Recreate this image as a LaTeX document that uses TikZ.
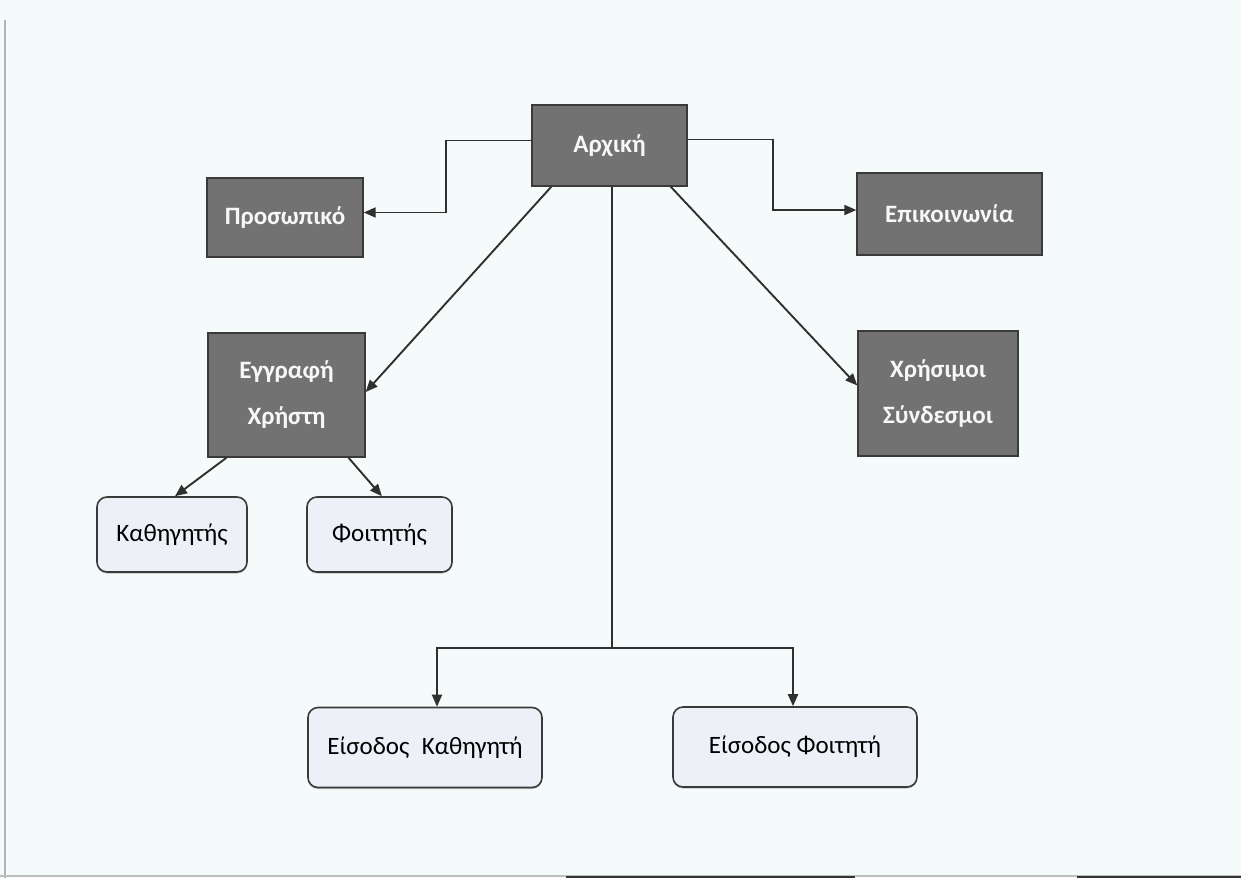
\documentclass[tikz,border=0pt]{standalone}
\usepackage{fontspec}
\setmainfont{Carlito}
\usetikzlibrary{arrows.meta, positioning, shadows}
\definecolor{pageTint}{HTML}{F5FAFA}
\definecolor{boxDark}{HTML}{727272}
\definecolor{edgeDark}{HTML}{3A3A3A}
\definecolor{boxLight}{HTML}{EEF0F7}
\definecolor{lineGray}{HTML}{303030}

\tikzset{
  darkbox/.style={draw=edgeDark, line width=0.7pt, fill=boxDark, text=white!94!gray,
    font=\bfseries\fontsize{12.5}{23}\selectfont, align=center, inner sep=0pt},
  lightbox/.style={draw=edgeDark, line width=0.8pt, fill=boxLight, rounded corners=5pt,
    font=\fontsize{12.5}{15}\selectfont, inner sep=0pt,
    drop shadow={shadow xshift=0pt, shadow yshift=-0.8pt, opacity=0.45}},
  link/.style={draw=lineGray, line width=0.95pt, -{Triangle[length=6pt, width=5pt]}}
}

\begin{document}
\begin{tikzpicture}[x=0.5pt, y=-0.5pt]
    % Page
    \fill[pageTint] (0,0) rectangle (1241,878);
    \useasboundingbox (0,0) rectangle (1241,878);
    \draw[gray!60, line width=1pt] (5,20) -- (5,878);
    \draw[gray!50, line width=0.6pt] (0,876) -- (1241,876);
    \draw[black!80, line width=1.2pt] (566,877) -- (855,877);
    \draw[black!80, line width=1.2pt] (1077,877) -- (1241,877);

    % Top level
    \node[darkbox, minimum width=77.5pt, minimum height=40.5pt] (arxiki) at (609.5,145.5) {Αρχική};
    \node[darkbox, minimum width=78pt, minimum height=39.5pt] (prosopiko) at (285,217.5) {Προσωπικό};
    \node[darkbox, minimum width=92.5pt, minimum height=41pt] (epikoinonia) at (949.5,214) {Επικοινωνία};
    \node[darkbox, minimum width=78.5pt, minimum height=62pt] (eggrafi) at (286.5,395) {Εγγραφή\\Χρήστη};
    \node[darkbox, minimum width=80pt, minimum height=62.5pt] (syndesmoi) at (938,393.5) {Χρήσιμοι\\Σύνδεσμοι};

    % Second level
    \node[lightbox, minimum width=75pt, minimum height=37.5pt] (kathigitis) at (172,534.5) {Καθηγητής};
    \node[lightbox, minimum width=72.5pt, minimum height=37.5pt] (foititis) at (379.5,534.5) {Φοιτητής};
    \node[lightbox, minimum width=117pt, minimum height=40pt] (eisodosK) at (425,747.5) {Είσοδος\enspace Καθηγητή};
    \node[lightbox, minimum width=122pt, minimum height=40pt] (eisodosF) at (795,747) {Είσοδος Φοιτητή};

    % Connectors
    \draw[link] ([yshift=2.5pt]arxiki.west) -- ++(-85,0) |- ([yshift=2.5pt]prosopiko.east);
    \draw[link] ([yshift=3pt]arxiki.east) -- ++(85,0) |- ([yshift=2pt]epikoinonia.west);
    \draw[link] ([xshift=10pt]arxiki.south west) -- ([yshift=1.5pt]eggrafi.east);
    \draw[link] ([xshift=-8.5pt]arxiki.south east) -- ([yshift=4pt]syndesmoi.west);
    \coordinate (split) at ([xshift=1.2pt]arxiki.south |- 0,648);
    \draw[draw=lineGray, line width=0.95pt] ([xshift=1.2pt]arxiki.south) -- (split);
    \draw[link] (split) -| ([xshift=6pt]eisodosK.north);
    \draw[link] (split) -| ([xshift=-1pt]eisodosF.north);
    \draw[link] ([xshift=-30pt]eggrafi.south) -- ([xshift=1.5pt]kathigitis.north);
    \draw[link] ([xshift=31pt]eggrafi.south) -- ([xshift=1.2pt]foititis.north);
\end{tikzpicture}
\end{document}
